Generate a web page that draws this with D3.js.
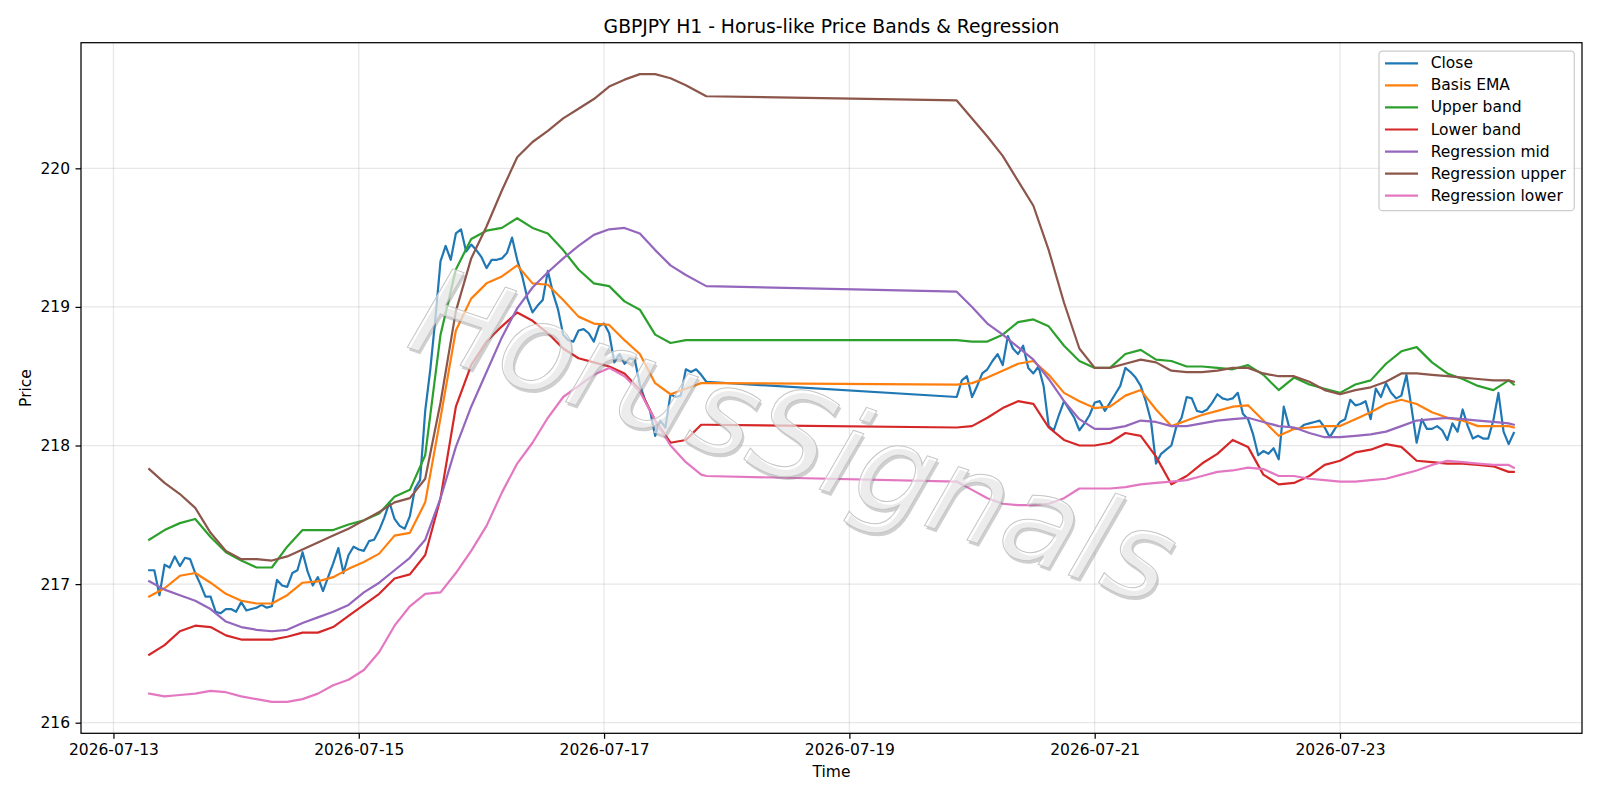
<!DOCTYPE html>
<html><head><meta charset="utf-8">
<script src="https://cdn.jsdelivr.net/npm/d3@7"></script>
<style>body{margin:0;background:#fff} svg{display:block} text{font-family:"DejaVu Sans",sans-serif}</style>
</head><body><svg id="chart" width="1600" height="800"></svg>
<script>
// ---------------- data ----------------
const originUTC = "2026-07-13T00:00:00Z";           // hours below are counted from this instant
const sessions = [[7,116],[165,274]];               // hourly bars: Mon 07:00 -> Fri 20:00, Sun 21:00 -> Fri 10:00
const seriesNames = ["Close","Basis EMA","Upper band","Lower band","Regression mid","Regression upper","Regression lower"];
const seriesColors = ["#1f77b4","#ff7f0e","#2ca02c","#d62728","#9467bd","#8c564b","#e377c2"];
const xTickLabels = ["2026-07-13","2026-07-15","2026-07-17","2026-07-19","2026-07-21","2026-07-23"];
const yTickLabels = [216,217,218,219,220];

const closeS1 = [
217.10,217.10,216.92,217.14,217.12,217.20,217.13,217.19,217.18,217.08,
217.00,216.91,216.91,216.80,216.79,216.82,216.82,216.80,216.87,216.81,
216.82,216.83,216.85,216.83,216.84,217.03,216.99,216.98,217.08,217.10,
217.23,217.09,216.99,217.05,216.95,217.05,217.15,217.26,217.08,217.21,
217.27,217.25,217.24,217.31,217.32,217.39,217.48,217.59,217.47,217.42,
217.40,217.49,217.69,217.75,218.25,218.55,218.92,219.33,219.44,219.34,
219.53,219.56,219.40,219.45,219.41,219.36,219.28,219.34,219.34,219.35,
219.39,219.50,219.34,219.22,219.06,218.96,219.01,219.05,219.26,219.10,
218.98,218.80,218.76,218.75,218.83,218.84,218.81,218.75,218.86,218.88,
218.81,218.60,218.66,218.59,218.63,218.62,218.44,218.33,218.25,218.07,
218.18,218.13,218.37,218.35,218.36,218.55,218.53,218.55,218.51,218.46];
const closeS2 = [
218.35,218.47,218.50,218.35,218.43,218.52,218.55,218.61,218.66,218.58,
218.79,218.70,218.66,218.72,218.56,218.52,218.57,218.43,218.14,218.11,
218.22,218.32,218.26,218.20,218.11,218.16,218.22,218.31,218.32,218.25,
218.31,218.37,218.43,218.56,218.53,218.49,218.43,218.32,218.18,217.87,
217.94,217.97,218.00,218.14,218.20,218.35,218.34,218.25,218.24,218.26,
218.31,218.37,218.34,218.33,218.34,218.38,218.23,218.19,218.08,217.93,
217.96,217.94,217.98,217.90,218.28,218.14,218.12,218.12,218.15,218.16,
218.17,218.18,218.13,218.06,218.12,218.17,218.19,218.33,218.29,218.30,
218.32,218.19,218.41,218.35,218.45,218.38,218.34,218.36,218.51,218.27,
218.02,218.19,218.12,218.12,218.14,218.11,218.04,218.16,218.10,218.26,
218.14,218.05,218.07,218.05,218.05,218.18,218.38,218.10,218.01,218.09];

// the smooth indicator lines are read every 3 hours
const smoothHours = [7,10,13,16,19,22,25,28,31,34,37,40,43,46,49,52,55,58,61,64,67,70,73,76,79,82,85,88,91,94,97,100,103,106,109,112,115,116,
165,168,171,174,177,180,183,186,189,192,195,198,201,204,207,210,213,216,219,222,225,228,231,234,237,240,243,246,249,252,255,258,261,264,267,270,273,274];

const basisEMA = [
216.91,216.97,217.06,217.08,217.01,216.93,216.88,216.86,216.86,216.92,
217.01,217.02,217.05,217.11,217.16,217.22,217.35,217.37,217.59,218.20,
218.83,219.06,219.17,219.22,219.30,219.17,219.16,219.05,218.93,218.88,
218.87,218.76,218.66,218.45,218.37,218.41,218.45,218.45,
218.44,218.45,218.49,218.54,218.59,218.61,218.51,218.38,218.32,218.27,
218.28,218.36,218.40,218.26,218.14,218.18,218.22,218.25,218.28,218.29,
218.18,218.07,218.12,218.13,218.14,218.14,218.19,218.24,218.30,218.33,
218.30,218.24,218.20,218.18,218.14,218.14,218.14,218.13];
const upperBand = [
217.32,217.39,217.44,217.47,217.34,217.23,217.17,217.12,217.12,217.27,
217.39,217.39,217.39,217.43,217.46,217.51,217.63,217.68,217.93,218.80,
219.27,219.49,219.55,219.57,219.64,219.57,219.53,219.41,219.27,219.17,
219.15,219.04,218.98,218.80,218.74,218.76,218.76,218.76,
218.76,218.75,218.75,218.80,218.89,218.91,218.86,218.72,218.61,218.56,
218.56,218.66,218.69,218.62,218.61,218.57,218.57,218.56,218.55,218.58,
218.51,218.40,218.49,218.44,218.41,218.38,218.44,218.47,218.59,218.68,
218.71,218.60,218.52,218.48,218.43,218.40,218.47,218.44];
const lowerBand = [
216.49,216.56,216.66,216.70,216.69,216.63,216.60,216.60,216.60,216.62,
216.65,216.65,216.69,216.77,216.85,216.93,217.04,217.07,217.21,217.62,
218.28,218.58,218.75,218.86,218.96,218.90,218.81,218.70,218.63,218.60,
218.57,218.52,218.40,218.18,218.02,218.04,218.15,218.15,
218.13,218.14,218.20,218.27,218.32,218.30,218.13,218.04,218.00,218.00,
218.02,218.09,218.07,217.92,217.72,217.78,217.87,217.94,218.04,217.99,
217.79,217.72,217.73,217.78,217.86,217.89,217.95,217.97,218.01,217.99,
217.89,217.88,217.87,217.87,217.86,217.85,217.81,217.81];
const regMid = [
217.02,216.96,216.92,216.88,216.82,216.73,216.69,216.67,216.66,216.67,
216.72,216.76,216.80,216.85,216.94,217.01,217.10,217.19,217.32,217.62,
217.99,218.28,218.53,218.78,218.99,219.14,219.25,219.35,219.44,219.52,
219.56,219.57,219.53,219.41,219.30,219.23,219.17,219.15,
219.11,219.00,218.88,218.80,218.71,218.62,218.48,218.32,218.19,218.12,
218.12,218.14,218.18,218.17,218.14,218.14,218.16,218.18,218.19,218.20,
218.17,218.14,218.13,218.09,218.06,218.06,218.07,218.08,218.10,218.14,
218.18,218.19,218.20,218.19,218.18,218.17,218.16,218.15];
const regUpper = [
217.83,217.73,217.65,217.55,217.37,217.24,217.18,217.18,217.17,217.20,
217.25,217.30,217.35,217.40,217.46,217.52,217.59,217.62,217.76,218.31,
218.97,219.35,219.58,219.84,220.08,220.19,220.27,220.36,220.43,220.50,
220.59,220.64,220.68,220.68,220.65,220.60,220.54,220.52,
220.49,220.36,220.23,220.09,219.91,219.73,219.41,219.03,218.70,218.56,
218.56,218.59,218.62,218.60,218.54,218.53,218.53,218.54,218.56,218.56,
218.52,218.50,218.50,218.46,218.40,218.37,218.40,218.42,218.46,218.52,
218.52,218.51,218.50,218.49,218.48,218.47,218.47,218.46];
const regLower = [
216.21,216.19,216.20,216.21,216.23,216.22,216.19,216.17,216.15,216.15,
216.17,216.21,216.27,216.31,216.38,216.51,216.70,216.84,216.93,216.94,
217.08,217.24,217.42,217.66,217.87,218.02,218.20,218.35,218.43,218.51,
218.56,218.50,218.39,218.18,218.00,217.88,217.79,217.78,
217.74,217.68,217.62,217.58,217.57,217.57,217.58,217.62,217.69,217.69,
217.69,217.70,217.72,217.73,217.74,217.75,217.78,217.81,217.82,217.84,
217.83,217.78,217.78,217.76,217.75,217.74,217.74,217.75,217.76,217.79,
217.82,217.86,217.89,217.88,217.87,217.86,217.86,217.84];

// ---------------- chart ----------------
const svg = d3.select("#chart");
const M = {left:81, right:1582, top:42.7, bottom:733.3};
const t0 = Date.parse(originUTC);
const toDate = h => new Date(t0 + h*3600e3);
const closeHours = sessions.flatMap(([a,b]) => d3.range(a, b+1));
const close = closeS1.concat(closeS2);

const seriesData = [
  closeHours.map((h,i)=>({t:toDate(h), v:close[i]})),
  ...[basisEMA, upperBand, lowerBand, regMid, regUpper, regLower].map(arr => smoothHours.map((h,i)=>({t:toDate(h), v:arr[i]})))
];

const hMin = closeHours[0], hMax = closeHours[closeHours.length-1];
const padH = (hMax-hMin)*0.05;
const x = d3.scaleUtc().domain([toDate(hMin-padH), toDate(hMax+padH)]).range([M.left, M.right]);
const allV = seriesData.flat().map(d=>d.v);
const [vmin, vmax] = d3.extent(allV);
const padV = (vmax-vmin)*0.05;
const y = d3.scaleLinear().domain([vmin-padV, vmax+padV]).range([M.bottom, M.top]);

const FS = 15.5;
const xTicks = xTickLabels.map(s => new Date(s+"T00:00:00Z"));

// grid
const grid = svg.append("g");
grid.selectAll("line.gx").data(xTicks).enter().append("line")
  .attr("x1", d=>x(d)).attr("x2", d=>x(d)).attr("y1", M.top).attr("y2", M.bottom)
  .attr("stroke", "#b0b0b0").attr("stroke-opacity", 0.3).attr("stroke-width", 1.25);
grid.selectAll("line.gy").data(yTickLabels).enter().append("line")
  .attr("x1", M.left).attr("x2", M.right).attr("y1", d=>y(d)).attr("y2", d=>y(d))
  .attr("stroke", "#b0b0b0").attr("stroke-opacity", 0.3).attr("stroke-width", 1.25);

// lines
svg.append("clipPath").attr("id","clip").append("rect")
  .attr("x", M.left).attr("y", M.top).attr("width", M.right-M.left).attr("height", M.bottom-M.top);
const line = d3.line().x(d=>x(d.t)).y(d=>y(d.v));
const gLines = svg.append("g").attr("clip-path","url(#clip)");
seriesData.forEach((data,i) => {
  gLines.append("path").datum(data).attr("d", line)
    .attr("fill","none").attr("stroke", seriesColors[i]).attr("stroke-width", 2.2)
    .attr("stroke-linejoin","round").attr("stroke-linecap","square");
});

// watermark
const wm = svg.append("g").attr("transform","translate(794,436) rotate(19)");
wm.append("text").text("HorusSignals")
  .attr("transform","translate(2.5,2.5)")
  .attr("text-anchor","middle").attr("dominant-baseline","central")
  .attr("font-size", 122).attr("font-style","italic")
  .attr("fill","#808080").attr("fill-opacity",0.38);
wm.append("text").text("HorusSignals")
  .attr("text-anchor","middle").attr("dominant-baseline","central")
  .attr("font-size", 122).attr("font-style","italic")
  .attr("fill","#ffffff").attr("fill-opacity",0.6)
  .attr("stroke","#c6c6c6").attr("stroke-width",1);

// axes
const xAxis = d3.axisBottom(x).tickValues(xTicks).tickFormat(d3.utcFormat("%Y-%m-%d")).tickSize(5.5).tickPadding(5.5);
const yAxis = d3.axisLeft(y).tickValues(yTickLabels).tickFormat(d3.format("d")).tickSize(5.5).tickPadding(5.5);
const gx = svg.append("g").attr("transform",`translate(0,${M.bottom})`).call(xAxis);
const gy = svg.append("g").attr("transform",`translate(${M.left},0)`).call(yAxis);
[gx,gy].forEach(g => {
  g.select(".domain").remove();
  g.selectAll(".tick line").attr("stroke","#000").attr("stroke-width",1.25);
  g.selectAll(".tick text").attr("fill","#000").attr("font-size",FS).attr("font-family","DejaVu Sans");
});
svg.append("rect").attr("x",M.left).attr("y",M.top).attr("width",M.right-M.left).attr("height",M.bottom-M.top)
  .attr("fill","none").attr("stroke","#000").attr("stroke-width",1.25);

// labels
svg.append("text").attr("x",(M.left+M.right)/2).attr("y",33).attr("text-anchor","middle")
  .attr("font-size",18.75).attr("fill","#000").text("GBPJPY H1 - Horus-like Price Bands & Regression");
svg.append("text").attr("x",(M.left+M.right)/2).attr("y",777).attr("text-anchor","middle")
  .attr("font-size",FS).attr("fill","#000").text("Time");
svg.append("text").attr("transform",`translate(31,${(M.top+M.bottom)/2}) rotate(-90)`).attr("text-anchor","middle")
  .attr("font-size",FS).attr("fill","#000").text("Price");

// legend
const lg = svg.append("g");
lg.append("rect").attr("x",1379).attr("y",51).attr("width",195.3).attr("height",159.7).attr("rx",3.5)
  .attr("fill","#fff").attr("fill-opacity",0.8).attr("stroke","#cccccc").attr("stroke-width",1.25);
seriesNames.forEach((name,i) => {
  const cy = 63.3 + i*22.07;
  lg.append("line").attr("x1",1385).attr("x2",1418).attr("y1",cy).attr("y2",cy)
    .attr("stroke",seriesColors[i]).attr("stroke-width",2.2);
  lg.append("text").attr("x",1430.7).attr("y",cy).attr("dominant-baseline","central")
    .attr("font-size",FS).attr("fill","#000").text(name);
});
</script></body></html>
